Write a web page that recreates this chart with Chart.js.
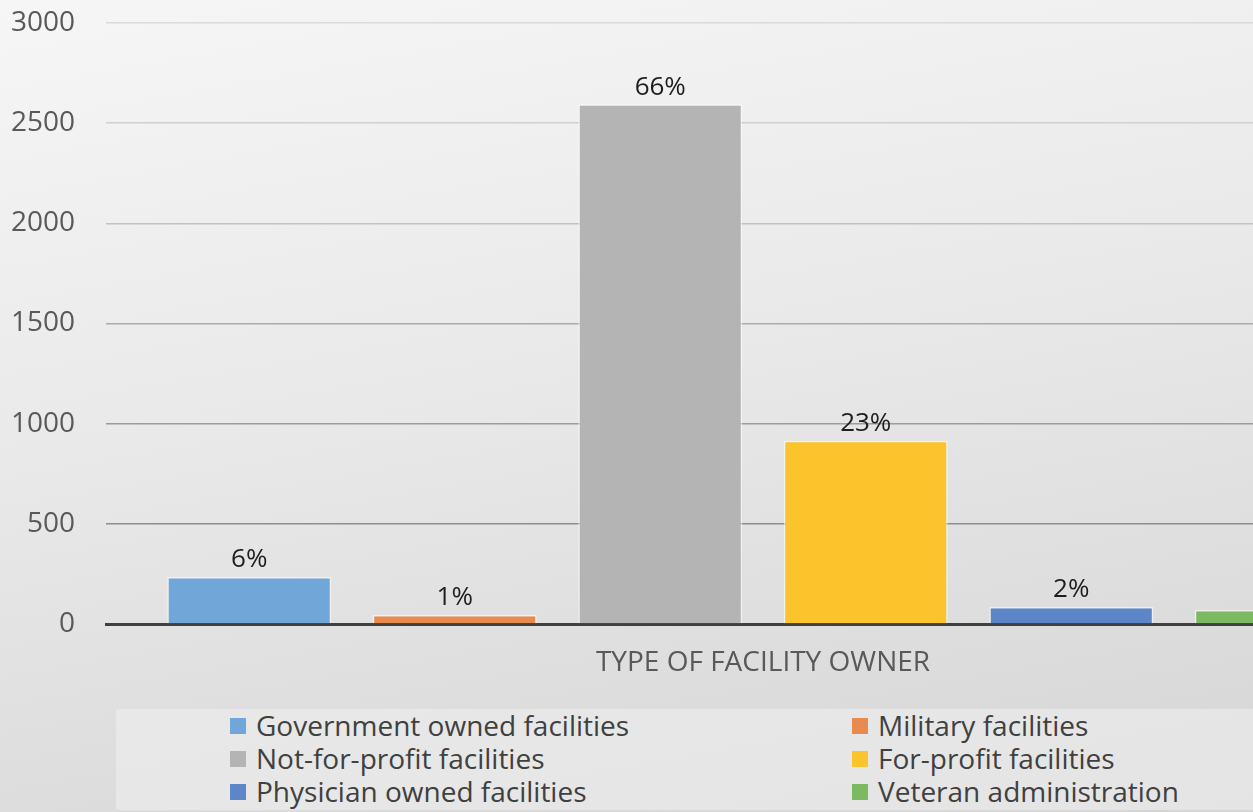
<!DOCTYPE html>
<html><head><meta charset="utf-8">
<script src="https://cdn.jsdelivr.net/npm/chart.js@4/dist/chart.umd.min.js"></script>
<style>
html,body{margin:0;padding:0;width:1253px;height:812px;overflow:hidden;}
body{background:linear-gradient(170deg,#f6f6f6 0%,#e9e9e9 45%,#d5d5d5 100%);position:relative;font-family:"Open Sans",sans-serif;}
#wrap{position:absolute;left:0;top:0;width:1430px;height:812px;}
#c{position:absolute;left:0;top:0;}
#legend{position:absolute;left:116px;top:709px;width:1294px;height:101px;background:rgba(238,238,238,0.6);}
.item{position:absolute;display:flex;align-items:center;font-size:28px;color:#404040;white-space:nowrap;line-height:33px;height:33px;}
.sw{width:16px;height:16px;margin-right:10px;box-sizing:border-box;}
</style></head>
<body>
<div id="wrap"><div id="legend"></div><canvas id="c" width="1430" height="812"></canvas></div>
<script>
const owners = ['Government owned facilities','Military facilities','Not-for-profit facilities','For-profit facilities','Physician owned facilities','Veteran administration'];
const counts = [235, 45, 2595, 915, 85, 70];
const shares = ['6%','1%','66%','23%','2%','2%'];
const yTicks = [0, 500, 1000, 1500, 2000, 2500, 3000];
const categories = [''];
const axisTitle = 'TYPE OF FACILITY OWNER';

const colors = ['#70a7d8','#e98b4e','#b4b4b4','#fbc42c','#5b86c8','#7db862'];
const gridShade = {500:'#8e8e8e',1000:'#9c9c9c',1500:'#ababab',2000:'#c2c2c2',2500:'#d0d0d0',3000:'#dadada'};

const datasets = owners.map((name, i) => ({
  label: name,
  data: [counts[i]],
  backgroundColor: colors[i],
  borderColor: 'rgba(255,255,255,0.55)',
  borderWidth: 1.5,
  categoryPercentage: 0.9384,
  barPercentage: 0.798
}));

const shareLabels = {
  id: 'shareLabels',
  afterDatasetsDraw(chart) {
    const ctx = chart.ctx;
    ctx.save();
    ctx.font = '26px "Open Sans", sans-serif';
    ctx.fillStyle = '#1e1e1e';
    ctx.textAlign = 'center';
    ctx.textBaseline = 'middle';
    chart.data.datasets.forEach((ds, i) => {
      const el = chart.getDatasetMeta(i).data[0];
      ctx.fillText(shares[i], el.x, el.y - 17);
    });
    ctx.restore();
  }
};

new Chart(document.getElementById('c'), {
  type: 'bar',
  data: { labels: categories, datasets },
  plugins: [shareLabels],
  options: {
    responsive: false,
    animation: false,
    layout: { padding: { top: 23, right: 10, left: 0, bottom: 132.2 } },
    plugins: { legend: { display: false }, tooltip: { enabled: false } },
    scales: {
      x: {
        z: 1,
        grid: { display: false, drawTicks: false },
        border: { display: true, color: '#404040', width: 3 },
        ticks: { display: false },
        title: { display: true, text: axisTitle, color: '#595959', font: { family: '"Open Sans", sans-serif', size: 28 }, padding: 0 },
        afterFit(s) { s.height = 55.8; }
      },
      y: {
        min: yTicks[0], max: yTicks[yTicks.length - 1],
        ticks: {
          stepSize: yTicks[1] - yTicks[0],
          color: '#595959',
          padding: 0,
          font: { family: '"Open Sans", sans-serif', size: 28 },
          callback: (v) => String(v)
        },
        border: { display: false },
        grid: {
          drawTicks: true,
          tickLength: 31,
          tickColor: 'rgba(0,0,0,0)',
          lineWidth: 1.5,
          color: (c) => c.tick && c.tick.value === 0 ? '#404040' : (gridShade[c.tick ? c.tick.value : 0] || '#cccccc')
        },
        afterFit(s) { s.width = 106; }
      }
    }
  }
});

const legend = document.getElementById('legend');
const colLeft = [114, 736];
owners.forEach((name, i) => {
  const d = document.createElement('div');
  d.className = 'item';
  d.style.left = colLeft[i % 2] + 'px';
  d.style.top = (Math.floor(i / 2) * 33) + 'px';
  const sw = document.createElement('span');
  sw.className = 'sw';
  sw.style.background = colors[i];
  const t = document.createElement('span');
  t.textContent = name;
  d.appendChild(sw); d.appendChild(t);
  legend.appendChild(d);
});
</script>
</body></html>
